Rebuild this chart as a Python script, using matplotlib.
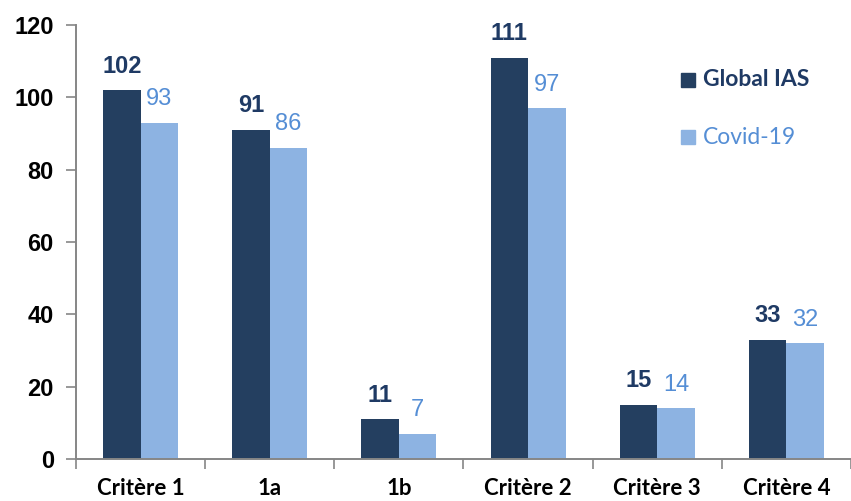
import matplotlib
matplotlib.use("Agg")
import matplotlib.pyplot as plt
from matplotlib.patches import Rectangle
import numpy as np

categories = ["Critère 1", "1a", "1b", "Critère 2", "Critère 3", "Critère 4"]
global_ias = [102, 91, 11, 111, 15, 33]
covid_19 = [93, 86, 7, 97, 14, 32]
series_names = ["Global IAS", "Covid-19"]
y_ticks = [0, 20, 40, 60, 80, 100, 120]

dark = "#243F60"
light = "#8DB3E2"
dark_txt = "#1F3A64"
light_txt = "#558ED5"
axis_col = "#868686"

fig = plt.figure(figsize=(8.51, 5.01), dpi=100)
ax = fig.add_axes([76 / 851, 1 - 459 / 501, 1 - 76 / 851, (459 - 25) / 501])

x = np.arange(len(categories))
w = 0.29
ax.bar(x - w / 2, global_ias, width=w, color=dark, zorder=2)
ax.bar(x + w / 2, covid_19, width=w, color=light, zorder=2)

for xi, g, c in zip(x, global_ias, covid_19):
    ax.annotate(str(g), (xi - w / 2, g), xytext=(0, 9), textcoords="offset points",
                ha="center", va="bottom", fontsize=17, fontweight="bold",
                color=dark_txt, family="Liberation Sans")
    ax.annotate(str(c), (xi + w / 2, c), xytext=(0, 9), textcoords="offset points",
                ha="center", va="bottom", fontsize=17,
                color=light_txt, family="Liberation Sans")

ax.set_xlim(-0.5, 5.5 - 5 / 130)
ax.set_ylim(0, 120)
ax.set_yticks(y_ticks)
ax.set_yticklabels([str(t) for t in y_ticks], fontsize=17, fontweight="bold",
                   family="Liberation Sans")

ax.set_xticks(np.arange(-0.5, len(categories), 1.0), minor=False)
ax.set_xticklabels([])
ax.set_xticks(x, minor=True)
ax.set_xticklabels(categories, minor=True, fontsize=16, fontweight="bold",
                   family=["Lato", "DejaVu Sans"])
ax.tick_params(axis="x", which="minor", length=0, pad=14)
ax.tick_params(axis="x", which="major", length=7, color=axis_col, width=1.2)
ax.tick_params(axis="y", length=7, color=axis_col, width=1.2, pad=9)

for s in ["top", "right"]:
    ax.spines[s].set_visible(False)
for s in ["left", "bottom"]:
    ax.spines[s].set_color(axis_col)
    ax.spines[s].set_linewidth(1.4)

# legend drawn in figure pixel coordinates
for i, (name, col, tcol, wt) in enumerate(zip(series_names, [dark, light],
                                             [dark_txt, light_txt], ["bold", "normal"])):
    yc = 80 + i * 57
    fig.patches.append(Rectangle((681 / 851, 1 - (yc + 7) / 501), 14 / 851, 14 / 501,
                                 transform=fig.transFigure, color=col))
    fig.text(703 / 851, 1 - yc / 501, name, fontsize=16.5, fontweight=wt, color=tcol,
             va="center", ha="left", family=["Lato", "DejaVu Sans"])

fig.savefig("out.png", dpi=100)
